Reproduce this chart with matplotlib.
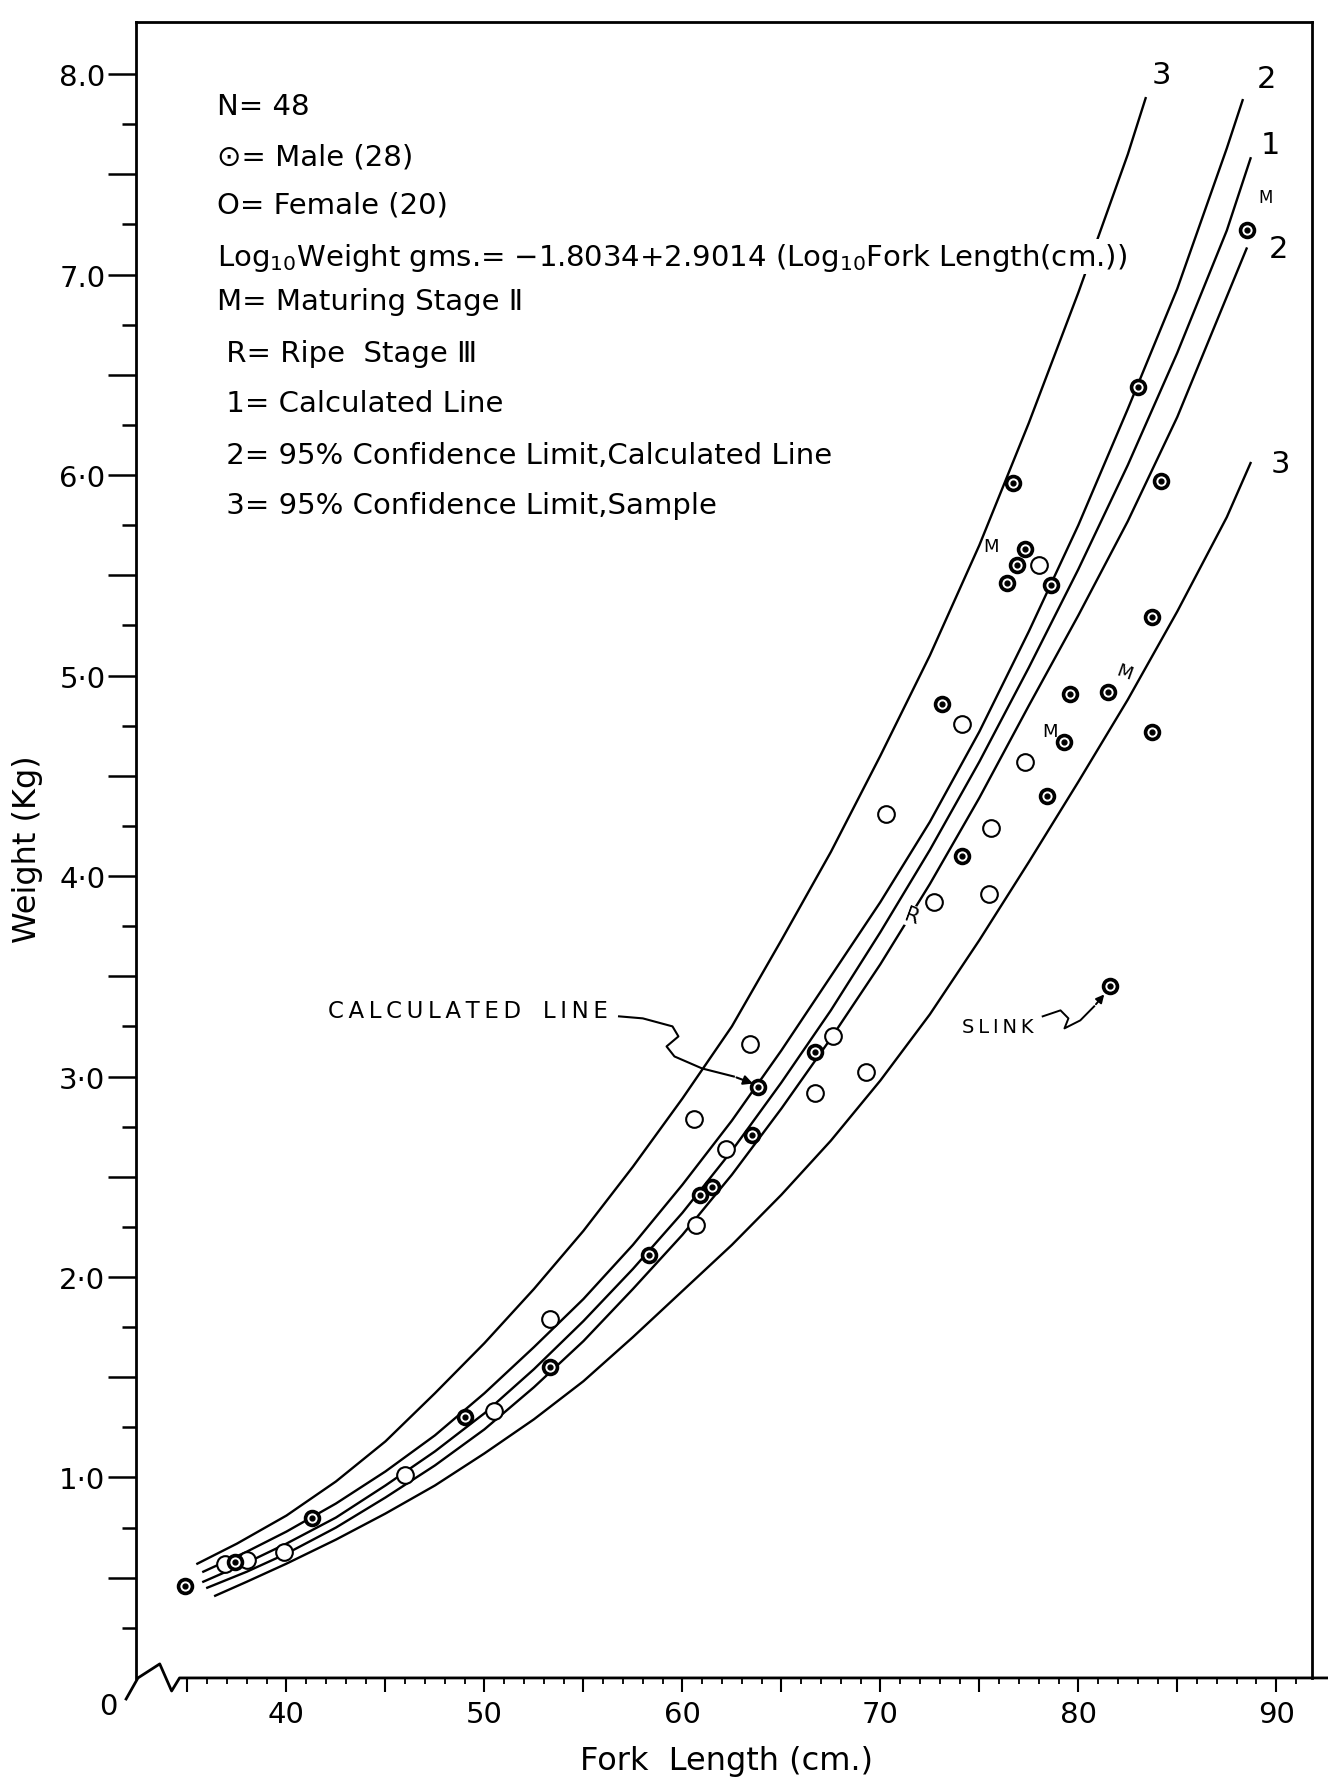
import matplotlib
matplotlib.use("Agg")
import matplotlib.pyplot as plt

plt.rcParams['font.family'] = ['DejaVu Sans']
plt.rcParams['mathtext.fontset'] = 'dejavusans'
plt.rcParams['mathtext.default'] = 'regular'

# fish measured: fork length (cm) and weight (kg)
male_x = [34.9, 37.4, 41.3, 49.0, 53.3, 58.3, 60.9, 61.5, 63.5, 63.8, 66.7, 76.9, 74.1, 78.4,
          79.3, 83.7, 73.1, 79.6, 81.5, 83.7, 76.4, 78.6, 77.3, 76.7, 84.2, 83.0, 88.5, 81.6]
male_y = [0.46, 0.58, 0.80, 1.30, 1.55, 2.11, 2.41, 2.45, 2.71, 2.95, 3.12, 5.55, 4.10, 4.40,
          4.67, 4.72, 4.86, 4.91, 4.92, 5.29, 5.46, 5.45, 5.63, 5.96, 5.97, 6.44, 7.22, 3.45]
female_x = [36.9, 38.0, 39.9, 46.0, 50.5, 53.3, 60.6, 60.7, 62.2, 63.4, 66.7, 67.6, 69.3, 70.3,
            72.7, 74.1, 75.5, 75.6, 77.3, 78.0]
female_y = [0.57, 0.59, 0.63, 1.01, 1.33, 1.79, 2.79, 2.26, 2.64, 3.16, 2.92, 3.20, 3.02, 4.31,
            3.87, 4.76, 3.91, 4.24, 4.57, 5.55]

# curves
c1_x = [35.8, 38, 40, 42.5, 45, 47.5, 50, 52.5, 55, 57.5, 60, 62.5, 65, 67.5, 70, 72.5, 75,
        77.5, 80, 82.5, 85, 87.5, 88.7]
c1_y = [0.48, 0.575, 0.67, 0.80, 0.96, 1.13, 1.32, 1.54, 1.78, 2.04, 2.32, 2.63, 2.97, 3.33,
        3.72, 4.13, 4.57, 5.04, 5.53, 6.05, 6.61, 7.22, 7.58]
c2u_x = [35.8, 38, 40, 42.5, 45, 47.5, 50, 52.5, 55, 57.5, 60, 62.5, 65, 67.5, 70, 72.5, 75,
         77.5, 80, 82.5, 85, 87.5, 88.3]
c2u_y = [0.53, 0.63, 0.73, 0.87, 1.03, 1.21, 1.42, 1.65, 1.89, 2.16, 2.46, 2.78, 3.13, 3.50,
         3.87, 4.27, 4.72, 5.22, 5.75, 6.33, 6.93, 7.63, 7.87]
c2l_x = [36.0, 38, 40, 42.5, 45, 47.5, 50, 52.5, 55, 57.5, 60, 62.5, 65, 67.5, 70, 72.5, 75,
         77.5, 80, 82.5, 85, 87.5, 88.5]
c2l_y = [0.45, 0.53, 0.62, 0.75, 0.90, 1.06, 1.24, 1.45, 1.68, 1.94, 2.21, 2.51, 2.84, 3.19,
         3.56, 3.96, 4.39, 4.85, 5.30, 5.77, 6.29, 6.89, 7.13]
c3u_x = [35.5, 37.5, 40, 42.5, 45, 47.5, 50, 52.5, 55, 57.5, 60, 62.5, 65, 67.5, 70, 72.5, 75,
         77.5, 80, 82.5, 83.4]
c3u_y = [0.57, 0.67, 0.81, 0.98, 1.18, 1.42, 1.67, 1.94, 2.23, 2.55, 2.89, 3.25, 3.68, 4.12,
         4.60, 5.10, 5.65, 6.26, 6.91, 7.60, 7.88]
c3l_x = [36.4, 38, 40, 42.5, 45, 47.5, 50, 52.5, 55, 57.5, 60, 62.5, 65, 67.5, 70, 72.5, 75,
         77.5, 80, 82.5, 85, 87.5, 88.7]
c3l_y = [0.41, 0.48, 0.57, 0.69, 0.82, 0.96, 1.12, 1.29, 1.48, 1.70, 1.93, 2.16, 2.41, 2.68,
         2.98, 3.31, 3.68, 4.07, 4.47, 4.88, 5.32, 5.79, 6.06]

curve_labels = ['3', '2', '1', '2', '3']
curve_label_x = [83.7, 89.0, 89.2, 89.6, 89.7]
curve_label_y = [8.00, 7.98, 7.65, 7.13, 6.06]

xtick_vals = [35, 40, 45, 50, 55, 60, 65, 70, 75, 80, 85, 90]
xtick_labels = ['', '40', '', '50', '', '60', '', '70', '', '80', '', '90']
ytick_vals = [0.5, 1, 1.5, 2, 2.5, 3, 3.5, 4, 4.5, 5, 5.5, 6, 6.5, 7, 7.5, 8]
ytick_labels = ['', '1·0', '', '2·0', '', '3·0', '', '4·0', '', '5·0', '', '6·0', '', '7.0', '', '8.0']

key_lines = ["N= 48",
             "⊙= Male (28)",
             "O= Female (20)",
             r"Log$_{10}$Weight gms.= −1.8034+2.9014 (Log$_{10}$Fork Length(cm.))",
             "M= Maturing Stage Ⅱ",
             " R= Ripe  Stage Ⅲ",
             " 1= Calculated Line",
             " 2= 95% Confidence Limit,Calculated Line",
             " 3= 95% Confidence Limit,Sample"]
key_y = [7.84, 7.59, 7.35, 7.09, 6.87, 6.61, 6.36, 6.10, 5.85]

fig = plt.figure(figsize=(13.28, 17.81), dpi=100)
fig.patch.set_facecolor('white')
ax = fig.add_axes([0.1024, 0.0573, 0.8855, 0.9298])
ax.set_xlim(32.4, 91.8)
ax.set_ylim(0, 8.26)

for cx, cy in [(c3u_x, c3u_y), (c2u_x, c2u_y), (c1_x, c1_y), (c2l_x, c2l_y), (c3l_x, c3l_y)]:
    ax.plot(cx, cy, color='black', lw=1.7, solid_joinstyle='round', zorder=2)

ax.plot(female_x, female_y, 'o', ms=12, mfc='white', mec='black', mew=1.5, zorder=3)
ax.plot(male_x, male_y, 'o', ms=10, mfc='white', mec='black', mew=2.6, zorder=3)
ax.plot(male_x, male_y, 'o', ms=3.5, color='black', zorder=4)

for lab, lx, ly in zip(curve_labels, curve_label_x, curve_label_y):
    ax.text(lx, ly, lab, fontsize=22, ha='left', va='center')

# key block
for line, ky in zip(key_lines, key_y):
    ax.text(36.5, ky, line, fontsize=21, ha='left', va='center',
            bbox=dict(facecolor='white', edgecolor='none', pad=1), zorder=5)

# stage marks
ax.text(89.1, 7.36, 'M', fontsize=12)
ax.text(75.2, 5.62, 'M', fontsize=13)
ax.text(78.2, 4.70, 'M', fontsize=13)
ax.text(81.8, 4.98, 'M', fontsize=13, rotation=-20)
ax.text(71.6, 3.80, 'R', fontsize=15, rotation=-20, ha='center', va='center', zorder=6,
        bbox=dict(facecolor='white', edgecolor='none', pad=0.5))

# annotations
ts = '\u2009'
ax.text(42.1, 3.33, ts.join('CALCULATED') + '   ' + ts.join('LINE'), fontsize=16.5,
        ha='left', va='center')
squig_x = [56.8, 58.0, 59.5, 59.8, 59.2, 59.6, 61.0, 62.6]
squig_y = [3.30, 3.29, 3.25, 3.20, 3.15, 3.10, 3.04, 3.00]
ax.plot(squig_x, squig_y, color='black', lw=1.5)
ax.annotate('', xy=(63.7, 2.96), xytext=(62.6, 3.00),
            arrowprops=dict(arrowstyle='-|>', color='black', lw=1.5, mutation_scale=14))
ax.text(74.1, 3.25, ts.join('SLINK'), fontsize=14, ha='left', va='center')
slink_x = [78.2, 79.1, 79.5, 79.3, 80.1, 80.8]
slink_y = [3.30, 3.33, 3.29, 3.24, 3.28, 3.35]
ax.plot(slink_x, slink_y, color='black', lw=1.4)
ax.annotate('', xy=(81.4, 3.42), xytext=(80.8, 3.35),
            arrowprops=dict(arrowstyle='-|>', color='black', lw=1.4, mutation_scale=12))

# axes frame and broken x axis
for s in ['left', 'top', 'right']:
    ax.spines[s].set_linewidth(2)
ax.spines['bottom'].set_visible(False)
ax.plot([31.9, 32.5, 33.6, 34.2, 34.6, 92.6], [-0.105, 0, 0.07, -0.065, 0, 0],
        color='black', lw=2, clip_on=False)
ax.text(31.0, -0.14, '0', fontsize=21, ha='center', va='center')

ax.set_xticks(xtick_vals, labels=xtick_labels)
ax.set_xticks(list(range(35, 92)), minor=True)
ax.set_yticks(ytick_vals, labels=ytick_labels)
ax.set_yticks([v + 0.25 for v in range(0, 8)] + [v + 0.75 for v in range(0, 8)], minor=True)
ax.tick_params(axis='x', which='major', length=10, width=1.5, labelsize=21, pad=6)
ax.tick_params(axis='x', which='minor', length=4.5, width=1.3)
ax.tick_params(axis='y', which='major', length=20, width=1.8, labelsize=21, pad=2)
ax.tick_params(axis='y', which='minor', length=10, width=1.8)

fig.text(727 / 1328, 1 - 1762 / 1781, 'Fork  Length (cm.)', fontsize=23, ha='center', va='center')
fig.text(28 / 1328, 1 - 849 / 1781, 'Weight (Kg)', fontsize=23, rotation=90, ha='center', va='center')

fig.savefig('out.png', dpi=100, facecolor='white')
